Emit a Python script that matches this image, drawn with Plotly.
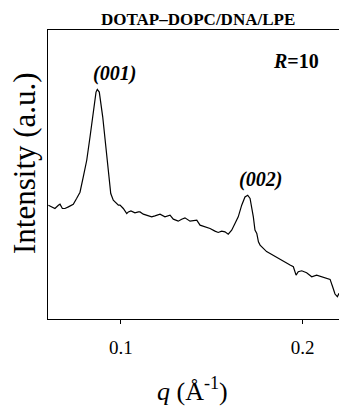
import plotly.graph_objects as go

# q values (1/Å) and intensity (a.u.)
q = [0.0602, 0.0620, 0.0638, 0.0657, 0.0666, 0.0679, 0.0693, 0.0712, 0.0739, 0.0758,
     0.0776, 0.0794, 0.0813, 0.0831, 0.0849, 0.0864, 0.0871, 0.0882, 0.0901, 0.0919,
     0.0932, 0.0945, 0.0959, 0.0968, 0.0987, 0.0996, 0.1014, 0.1033, 0.1042, 0.1056,
     0.1078, 0.1097, 0.1106, 0.1124, 0.1143, 0.1170, 0.1188, 0.1216, 0.1243, 0.1271,
     0.1289, 0.1316, 0.1335, 0.1353, 0.1381, 0.1418, 0.1436, 0.1463, 0.1491, 0.1518,
     0.1536, 0.1555, 0.1573, 0.1591, 0.1610, 0.1628, 0.1646, 0.1665, 0.1683, 0.1698,
     0.1711, 0.1729, 0.1738, 0.1748, 0.1757, 0.1766, 0.1784, 0.1802, 0.1821, 0.1848,
     0.1876, 0.1903, 0.1931, 0.1949, 0.1964, 0.1976, 0.1995, 0.2022, 0.2050, 0.2077,
     0.2105, 0.2114, 0.2132, 0.2151, 0.2165, 0.2178, 0.2191, 0.2200]
intensity = [114, 112.3, 110.7, 114, 115, 110.7, 110.7, 112.3, 115, 121,
             127, 142.3, 159, 182.3, 209, 227.3, 230, 227.3, 202.3, 169,
             142.3, 125.7, 119, 117.3, 114, 114, 110.7, 105.7, 107.3, 108.3,
             106.3, 107.3, 107.3, 105, 104, 102.3, 103.3, 105, 102.3, 104,
             100, 98, 100, 101.3, 98, 99, 94, 92.3, 90.7, 88,
             86.7, 88, 87.3, 85, 89, 95.7, 102.3, 114, 122.3, 124,
             120.7, 102.3, 89, 85.7, 77.3, 74, 70.7, 67.5, 65.7, 62.7,
             59.5, 57.3, 54, 52.3, 44, 47.3, 48.3, 46.3, 42.3, 44,
             42.3, 42, 40.7, 39.7, 32.3, 25, 22.3, 25.7]

tick_vals = [0.1, 0.2]
tick_text = ["0.1", "0.2"]

FONT = "Liberation Serif"

fig = go.Figure()
fig.add_trace(go.Scatter(x=q, y=intensity, mode="lines",
                         line=dict(color="black", width=1.2), showlegend=False,
                         hoverinfo="skip"))

fig.update_layout(
    width=339, height=407,
    margin=dict(l=48, r=0, t=30, b=88),
    paper_bgcolor="white", plot_bgcolor="white",
    font=dict(family=FONT, color="black"),
    xaxis=dict(range=[0.06, 0.22], tickvals=tick_vals, ticktext=tick_text,
               ticks="outside", ticklen=4, tickwidth=1, tickcolor="black",
               showline=True, linecolor="black", linewidth=1.2, mirror=True,
               showgrid=False, zeroline=False,
               tickfont=dict(family=FONT, size=19, color="black"),
               ticklabelstandoff=7),
    yaxis=dict(range=[0, 289.5], showticklabels=False, ticks="",
               showline=True, linecolor="black", linewidth=1.2, mirror=False,
               showgrid=False, zeroline=False),
)

anns = [
    dict(text="<b>DOTAP–DOPC/DNA/LPE</b>", x=0.515, y=1.035, size=17),
    dict(text="<b><i>R</i>=10</b>", x=0.852, y=0.893, size=20),
    dict(text="<b><i>(001)</i></b>", x=0.227, y=0.848, size=20),
    dict(text="<b><i>(002)</i></b>", x=0.729, y=0.481, size=20),
    dict(text="<i>q</i> (Å<sup>-1</sup>)", x=0.498, y=-0.243, size=26),
]
for a in anns:
    fig.add_annotation(text=a["text"], x=a["x"], y=a["y"], xref="paper", yref="paper",
                       showarrow=False, xanchor="center", yanchor="middle",
                       font=dict(family=FONT, size=a["size"], color="black"))

fig.add_annotation(text="Intensity (a.u.)", x=-0.079, y=0.54, xref="paper", yref="paper",
                   showarrow=False, textangle=-90, xanchor="center", yanchor="middle",
                   font=dict(family=FONT, size=31, color="black"))

fig.write_html("out.html")
